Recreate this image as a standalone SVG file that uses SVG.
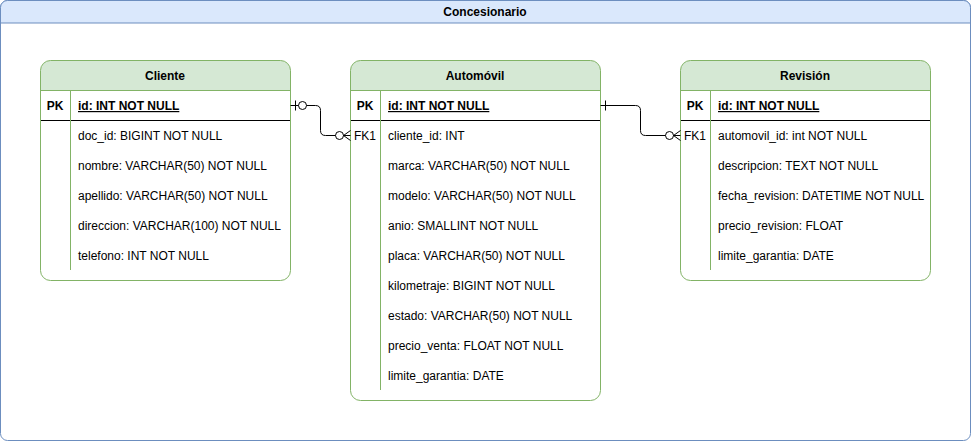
<svg xmlns="http://www.w3.org/2000/svg" width="971" height="441" viewBox="0 0 971 441">
<style>
text{font-family:"Liberation Sans",Arial,Helvetica,sans-serif;font-size:12px;fill:#000;}
.b{font-weight:bold;}
.c{text-anchor:middle;}
.u{text-decoration:underline;}
.hd{fill:#d5e8d4;stroke:none;}
.box{fill:none;stroke:#82b366;stroke-width:1;}
.gl{stroke:#82b366;stroke-width:1;fill:none;}
.rl{stroke:#000;stroke-width:1;fill:none;}
.e{stroke:#000;stroke-width:1;fill:none;}
.ec{stroke:#000;stroke-width:1;fill:#fff;}
</style>
<g id="container">
<rect x="0.5" y="0.5" width="970" height="440" rx="7" fill="#fff" stroke="#6c8ebf"/>
<path d="M0.5,23 V7.5 A7,7 0 0 1 7.5,0.5 H963.5 A7,7 0 0 1 970.5,7.5 V23 Z" fill="#dae8fc" stroke="#6c8ebf"/>
<text x="485" y="16" class="b c">Concesionario</text>
</g>
<g id="cliente">
<rect x="40.5" y="60.5" width="250" height="220" rx="10" fill="#fff"/>
<path class="hd" d="M40.5,90.5 V70.5 A10,10 0 0 1 50.5,60.5 H280.5 A10,10 0 0 1 290.5,70.5 V90.5 Z"/>
<line class="gl" x1="40.5" y1="90.5" x2="290.5" y2="90.5"/>
<line class="rl" x1="40.5" y1="120.5" x2="290.5" y2="120.5"/>
<line class="gl" x1="70.5" y1="90.5" x2="70.5" y2="270"/>
<rect class="box" x="40.5" y="60.5" width="250" height="220" rx="10"/>
<text x="165" y="80" class="b c">Cliente</text>
<text x="55" y="110" class="b c">PK</text>
<text x="78" y="110" class="b u">id: INT NOT NULL</text>
<text x="78" y="140">doc_id: BIGINT NOT NULL</text>
<text x="78" y="170">nombre: VARCHAR(50) NOT NULL</text>
<text x="78" y="200">apellido: VARCHAR(50) NOT NULL</text>
<text x="78" y="230">direccion: VARCHAR(100) NOT NULL</text>
<text x="78" y="260">telefono: INT NOT NULL</text>
</g>
<g id="automovil">
<rect x="350.5" y="60.5" width="250" height="340" rx="10" fill="#fff"/>
<path class="hd" d="M350.5,90.5 V70.5 A10,10 0 0 1 360.5,60.5 H590.5 A10,10 0 0 1 600.5,70.5 V90.5 Z"/>
<line class="gl" x1="350.5" y1="90.5" x2="600.5" y2="90.5"/>
<line class="rl" x1="350.5" y1="120.5" x2="600.5" y2="120.5"/>
<line class="gl" x1="380.5" y1="90.5" x2="380.5" y2="390"/>
<rect class="box" x="350.5" y="60.5" width="250" height="340" rx="10"/>
<text x="475" y="80" class="b c">Automóvil</text>
<text x="365" y="110" class="b c">PK</text>
<text x="388" y="110" class="b u">id: INT NOT NULL</text>
<text x="365" y="140" class="c">FK1</text>
<text x="388" y="140">cliente_id: INT</text>
<text x="388" y="170">marca: VARCHAR(50) NOT NULL</text>
<text x="388" y="200">modelo: VARCHAR(50) NOT NULL</text>
<text x="388" y="230">anio: SMALLINT NOT NULL</text>
<text x="388" y="260">placa: VARCHAR(50) NOT NULL</text>
<text x="388" y="290">kilometraje: BIGINT NOT NULL</text>
<text x="388" y="320">estado: VARCHAR(50) NOT NULL</text>
<text x="388" y="350">precio_venta: FLOAT NOT NULL</text>
<text x="388" y="380">limite_garantia: DATE</text>
</g>
<g id="revision">
<rect x="680.5" y="60.5" width="250" height="220" rx="10" fill="#fff"/>
<path class="hd" d="M680.5,90.5 V70.5 A10,10 0 0 1 690.5,60.5 H920.5 A10,10 0 0 1 930.5,70.5 V90.5 Z"/>
<line class="gl" x1="680.5" y1="90.5" x2="930.5" y2="90.5"/>
<line class="rl" x1="680.5" y1="120.5" x2="930.5" y2="120.5"/>
<line class="gl" x1="710.5" y1="90.5" x2="710.5" y2="270"/>
<rect class="box" x="680.5" y="60.5" width="250" height="220" rx="10"/>
<text x="805" y="80" class="b c">Revisión</text>
<text x="695" y="110" class="b c">PK</text>
<text x="718" y="110" class="b u">id: INT NOT NULL</text>
<text x="695" y="140" class="c">FK1</text>
<text x="718" y="140">automovil_id: int NOT NULL</text>
<text x="718" y="170">descripcion: TEXT NOT NULL</text>
<text x="718" y="200">fecha_revision: DATETIME NOT NULL</text>
<text x="718" y="230">precio_revision: FLOAT</text>
<text x="718" y="260">limite_garantia: DATE</text>
</g>
<g id="connectors">
<path class="e" d="M290.5,105.5 H315.5 Q320.5,105.5 320.5,110.5 V130.5 Q320.5,135.5 325.5,135.5 H350.5"/>
<line class="e" x1="295.5" y1="100.5" x2="295.5" y2="110.5"/>
<circle class="ec" cx="302.5" cy="105.5" r="4"/>
<circle class="ec" cx="339.5" cy="135.5" r="4"/>
<path class="e" d="M350.5,130.5 L343.5,135.5 L350.5,140.5"/>
<path class="e" d="M600.5,105.5 H635.5 Q640.5,105.5 640.5,110.5 V130.5 Q640.5,135.5 645.5,135.5 H680.5"/>
<line class="e" x1="605.5" y1="100.5" x2="605.5" y2="110.5"/>
<circle class="ec" cx="669.5" cy="135.5" r="4"/>
<path class="e" d="M680.5,130.5 L673.5,135.5 L680.5,140.5"/>
</g>
</svg>
